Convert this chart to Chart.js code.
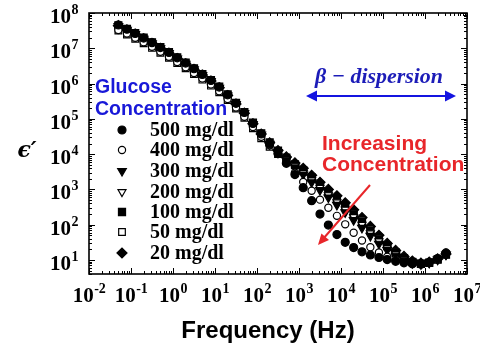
<!DOCTYPE html>
<html>
<head>
<meta charset="utf-8">
<script src="https://cdn.jsdelivr.net/npm/chart.js@4.4.0/dist/chart.umd.min.js"></script>
<style>
  body { margin: 0; background: #fff; }
  #wrap { width: 480px; height: 350px; }
</style>
</head>
<body>
<div id="wrap"><canvas id="epsChart" width="480" height="350"></canvas></div>
<script>
const freqHz = [0.05, 0.08, 0.126, 0.2, 0.316, 0.5, 0.8, 1.26, 2, 3.16,
  5, 8, 12.6, 20, 31.6, 50, 80, 126, 200, 316,
  500, 800, 1260, 2000, 3160, 5000, 8000, 12600, 20000, 31600,
  50000, 80000, 126000, 200000, 316000, 500000, 800000, 1260000, 2000000, 3160000];

// log10(eps'), one list per glucose level
const logEps500 = [7.66, 7.54, 7.42, 7.29, 7.16, 7.02, 6.88, 6.73, 6.58, 6.42,
  6.26, 6.09, 5.90, 5.68, 5.44, 5.18, 4.87, 4.57, 4.29, 4.02,
  3.74, 3.42, 3.05, 2.68, 2.30, 1.99, 1.72, 1.50, 1.35, 1.23,
  1.14, 1.07, 1.01, 0.96, 0.92, 0.89, 0.88, 0.93, 1.04, 1.20];
const logEps400 = [7.52, 7.42, 7.30, 7.17, 7.04, 6.90, 6.76, 6.61, 6.46, 6.30,
  6.14, 5.97, 5.78, 5.56, 5.32, 5.06, 4.77, 4.49, 4.25, 4.01,
  3.76, 3.47, 3.21, 2.96, 2.71, 2.48, 2.25, 2.01, 1.77, 1.55,
  1.36, 1.21, 1.09, 1.00, 0.93, 0.90, 0.89, 0.93, 1.03, 1.18];
const logEps300 = [7.63, 7.52, 7.40, 7.27, 7.14, 7.00, 6.86, 6.71, 6.56, 6.40,
  6.24, 6.07, 5.88, 5.66, 5.42, 5.16, 4.85, 4.55, 4.29, 4.04,
  3.82, 3.62, 3.42, 3.20, 2.98, 2.77, 2.56, 2.35, 2.13, 1.91,
  1.68, 1.46, 1.28, 1.12, 0.99, 0.91, 0.88, 0.92, 1.01, 1.15];
const logEps200 = [7.58, 7.48, 7.36, 7.23, 7.10, 6.96, 6.82, 6.67, 6.52, 6.36,
  6.20, 6.03, 5.84, 5.62, 5.38, 5.12, 4.82, 4.53, 4.28, 4.05,
  3.85, 3.66, 3.47, 3.26, 3.05, 2.84, 2.64, 2.43, 2.22, 2.00,
  1.76, 1.53, 1.33, 1.16, 1.02, 0.93, 0.89, 0.92, 1.01, 1.15];
const logEps100 = [7.65, 7.55, 7.43, 7.30, 7.17, 7.03, 6.89, 6.74, 6.59, 6.43,
  6.27, 6.10, 5.91, 5.69, 5.45, 5.19, 4.89, 4.59, 4.33, 4.10,
  3.90, 3.71, 3.54, 3.33, 3.12, 2.92, 2.73, 2.52, 2.31, 2.08,
  1.84, 1.60, 1.39, 1.20, 1.05, 0.94, 0.89, 0.92, 1.01, 1.15];
const logEps50 = [7.50, 7.39, 7.27, 7.14, 7.01, 6.87, 6.73, 6.58, 6.43, 6.27,
  6.11, 5.94, 5.75, 5.53, 5.29, 5.03, 4.73, 4.45, 4.21, 4.00,
  3.83, 3.68, 3.53, 3.33, 3.13, 2.93, 2.74, 2.54, 2.34, 2.12,
  1.88, 1.63, 1.41, 1.22, 1.06, 0.95, 0.90, 0.93, 1.02, 1.16];
const logEps20 = [7.64, 7.52, 7.40, 7.27, 7.14, 7.00, 6.86, 6.71, 6.56, 6.40,
  6.24, 6.07, 5.88, 5.66, 5.42, 5.16, 4.86, 4.57, 4.32, 4.10,
  3.92, 3.75, 3.60, 3.40, 3.20, 3.00, 2.82, 2.62, 2.42, 2.20,
  1.95, 1.70, 1.47, 1.27, 1.10, 0.97, 0.91, 0.94, 1.03, 1.17];

const concLabels = ['500 mg/dl', '400 mg/dl', '300 mg/dl', '200 mg/dl', '100 mg/dl', '50 mg/dl', '20 mg/dl'];
const xTickExps = [-2, -1, 0, 1, 2, 3, 4, 5, 6, 7];
const yTickExps = [1, 2, 3, 4, 5, 6, 7, 8];

const seriesLog = [logEps500, logEps400, logEps300, logEps200, logEps100, logEps50, logEps20];
const markers = [
  { pointStyle: 'circle', filled: true, radius: 4, rotation: 0 },
  { pointStyle: 'circle', filled: false, radius: 3.6, rotation: 0 },
  { pointStyle: 'triangle', filled: true, radius: 5, rotation: 180 },
  { pointStyle: 'triangle', filled: false, radius: 4.6, rotation: 180 },
  { pointStyle: 'rect', filled: true, radius: 5, rotation: 0 },
  { pointStyle: 'rect', filled: false, radius: 4.7, rotation: 0 },
  { pointStyle: 'rectRot', filled: true, radius: 5, rotation: 0 }
];

const serif = '"Liberation Serif", "Times New Roman", serif';
const sans = '"Liberation Sans", Arial, sans-serif';

function drawPow(ctx, exp, x, baseY, supY, align) {
  const base = '10', sup = String(exp);
  ctx.font = 'bold 21px ' + serif;
  const wb = ctx.measureText(base).width;
  ctx.font = 'bold 14px ' + serif;
  const ws = ctx.measureText(sup).width;
  const x0 = align === 'right' ? x - wb - ws : x - (wb + ws) / 2;
  ctx.textAlign = 'left';
  ctx.textBaseline = 'alphabetic';
  ctx.font = 'bold 21px ' + serif;
  ctx.fillText(base, x0, baseY);
  ctx.font = 'bold 14px ' + serif;
  ctx.fillText(sup, x0 + wb + 0.5, supY);
}

function arrowHead(ctx, x1, y1, x2, y2, len, half) {
  const a = Math.atan2(y2 - y1, x2 - x1);
  ctx.beginPath();
  ctx.moveTo(x2, y2);
  ctx.lineTo(x2 - len * Math.cos(a) + half * Math.sin(a), y2 - len * Math.sin(a) - half * Math.cos(a));
  ctx.lineTo(x2 - len * Math.cos(a) - half * Math.sin(a), y2 - len * Math.sin(a) + half * Math.cos(a));
  ctx.closePath();
  ctx.fill();
}

const overlay = {
  id: 'overlay',
  afterDraw(chart) {
    const ctx = chart.ctx;
    const { left, right, top, bottom } = chart.chartArea;
    const xs = chart.scales.x, ys = chart.scales.y;
    ctx.save();

    // frame and inward ticks on all four sides
    ctx.strokeStyle = '#000';
    ctx.lineWidth = 1.6;
    ctx.strokeRect(left, top, right - left, bottom - top);
    ctx.lineWidth = 1;
    ctx.beginPath();
    for (let e = -2; e <= 7; e++) {
      for (let m = 1; m <= 9; m++) {
        const v = m * Math.pow(10, e);
        if (v < xs.min || v > xs.max) continue;
        const px = Math.round(xs.getPixelForValue(v)) + 0.5;
        const len = m === 1 ? 6 : 3;
        ctx.moveTo(px, bottom); ctx.lineTo(px, bottom - len);
        ctx.moveTo(px, top); ctx.lineTo(px, top + len);
      }
    }
    for (let e = 0; e <= 8; e++) {
      for (let m = 1; m <= 9; m++) {
        const v = m * Math.pow(10, e);
        if (v < ys.min || v > ys.max) continue;
        const py = Math.round(ys.getPixelForValue(v)) + 0.5;
        const len = m === 1 ? 6 : 3;
        ctx.moveTo(left, py); ctx.lineTo(left + len, py);
        ctx.moveTo(right, py); ctx.lineTo(right - len, py);
      }
    }
    ctx.stroke();

    // tick labels
    ctx.fillStyle = '#000';
    xTickExps.forEach(e => {
      const px = xs.getPixelForValue(Math.pow(10, e));
      drawPow(ctx, e, px, bottom + 28, bottom + 19, 'center');
    });
    yTickExps.forEach(e => {
      const py = ys.getPixelForValue(Math.pow(10, e));
      drawPow(ctx, e, 78, py + 10, py + 1, 'right');
    });

    // axis titles
    ctx.textAlign = 'center';
    ctx.textBaseline = 'alphabetic';
    ctx.font = 'bold 24px ' + sans;
    ctx.fillText('Frequency (Hz)', 268, 338);
    ctx.font = 'italic bold 22px "DejaVu Serif", serif';
    ctx.textBaseline = 'middle';
    ctx.fillText('\u03f5\u2032', 27, 151);

    // legend
    ctx.textAlign = 'left';
    ctx.textBaseline = 'alphabetic';
    ctx.fillStyle = '#1818d8';
    ctx.font = 'bold 19.5px ' + sans;
    ctx.fillText('Glucose', 95, 93);
    ctx.fillText('Concentration', 95, 115);
    const rowY = [130, 150, 171, 192, 212, 232, 253];
    concLabels.forEach((lab, i) => {
      const mk = markers[i];
      ctx.fillStyle = mk.filled ? '#000' : '#fff';
      ctx.strokeStyle = '#000';
      ctx.lineWidth = 1.2;
      Chart.helpers.drawPoint(ctx, {
        pointStyle: mk.pointStyle, rotation: mk.rotation, radius: mk.radius, borderWidth: 1.2
      }, 122, rowY[i]);
      ctx.fillStyle = '#000';
      ctx.font = 'bold 20px ' + serif;
      ctx.fillText(lab, 150, rowY[i] + 6);
    });

    // beta dispersion, sized to span the same width as in the figure
    ctx.fillStyle = '#1c1cb8';
    ctx.font = 'italic bold 20px ' + serif;
    const betaText = '\u03b2 \u2212 dispersion';
    const fs = Math.min(24, 20 * 128 / ctx.measureText(betaText).width);
    ctx.font = 'italic bold ' + fs.toFixed(1) + 'px ' + serif;
    ctx.textAlign = 'center';
    ctx.textBaseline = 'middle';
    ctx.fillText(betaText, 379, 77);
    ctx.strokeStyle = '#1414e0';
    ctx.fillStyle = '#1414e0';
    ctx.lineWidth = 2;
    ctx.beginPath();
    ctx.moveTo(312, 96); ctx.lineTo(449, 96);
    ctx.stroke();
    arrowHead(ctx, 380, 96, 306, 96, 11, 5.5);
    arrowHead(ctx, 380, 96, 456, 96, 11, 5.5);

    // increasing concentration
    ctx.fillStyle = '#e8262a';
    ctx.strokeStyle = '#e8262a';
    ctx.font = 'bold 21px ' + sans;
    ctx.textAlign = 'left';
    ctx.textBaseline = 'alphabetic';
    ctx.fillText('Increasing', 322, 150);
    ctx.fillText('Concentration', 322, 171);
    ctx.beginPath();
    ctx.moveTo(370, 185); ctx.lineTo(323, 239);
    ctx.stroke();
    arrowHead(ctx, 370, 185, 318, 245, 11, 5);

    ctx.restore();
  }
};

const datasets = seriesLog.map((logs, i) => {
  const mk = markers[i];
  return {
    label: concLabels[i],
    data: freqHz.map((f, j) => ({ x: f, y: Math.pow(10, logs[j]) })),
    showLine: false,
    pointStyle: mk.pointStyle,
    pointRotation: mk.rotation,
    pointRadius: mk.radius,
    pointBorderWidth: 1.2,
    pointBorderColor: '#000',
    pointBackgroundColor: mk.filled ? '#000' : '#fff'
  };
});

new Chart(document.getElementById('epsChart').getContext('2d'), {
  type: 'scatter',
  data: { datasets },
  options: {
    responsive: false,
    animation: false,
    devicePixelRatio: 1,
    layout: { padding: { left: 89, right: 13, top: 13, bottom: 76 } },
    plugins: { legend: { display: false }, tooltip: { enabled: false } },
    scales: {
      x: { type: 'logarithmic', min: 0.01, max: 1e7, display: false },
      y: { type: 'logarithmic', min: 4, max: 1e8, display: false }
    }
  },
  plugins: [overlay]
});
</script>
</body>
</html>
